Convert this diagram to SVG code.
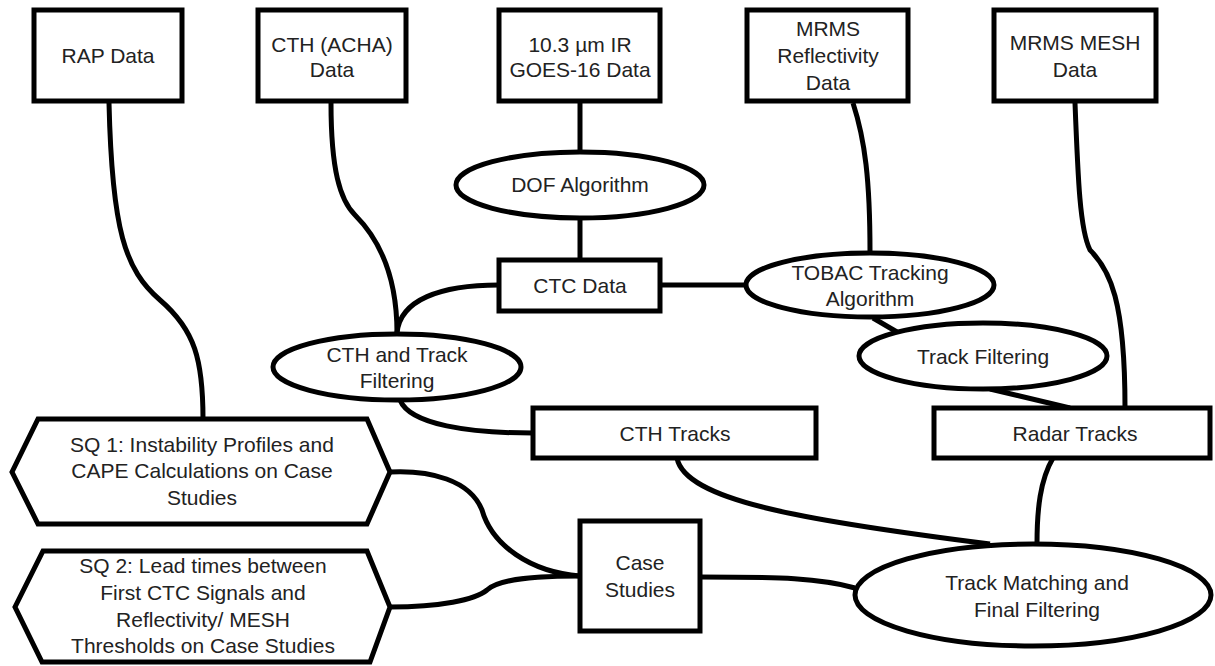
<svg xmlns="http://www.w3.org/2000/svg" width="1215" height="666" viewBox="0 0 1215 666">
<style>
.n{fill:#fff;stroke:#000;stroke-width:5}
.c{fill:none;stroke:#000;stroke-width:5}
text{font-family:"Liberation Sans",Arial,sans-serif;font-size:21px;fill:#222;text-anchor:middle}
</style>
<rect width="1215" height="666" fill="#fff"/>
<g id="connectors">
<path class="c" d="M109,103 C112,230 125,270 160,300 C195,330 203,360 203,419"/>
<path class="c" d="M331,103 C331,170 340,200 355,215 C375,235 397,270 397,333"/>
<path class="c" d="M499,285 C440,285 400,300 397,333"/>
<path class="c" d="M580,103 L580,151"/>
<path class="c" d="M580,218 L580,260"/>
<path class="c" d="M660,285 L746,285"/>
<path class="c" d="M853,103 C865,140 870,180 870,252"/>
<path class="c" d="M873,318 L897,332"/>
<path class="c" d="M990,389 L1070,408"/>
<path class="c" d="M1075,103 C1078,180 1080,230 1090,250 C1110,270 1125,300 1125,408"/>
<path class="c" d="M400,400 C410,425 470,433 533,433"/>
<path class="c" d="M677,458 C685,500 800,520 990,544"/>
<path class="c" d="M1053,458 C1040,480 1037,510 1037,544"/>
<path class="c" d="M700,577 C780,577 820,578 855,588"/>
<path class="c" d="M390,472 C430,470 470,480 482,510 C492,545 530,572 580,576"/>
<path class="c" d="M390,607 C440,607 475,600 487,590 C500,578 540,576 580,576"/>
</g>
<g id="rap"><rect class="n" x="34" y="10" width="148" height="91"/><text x="108" y="63">RAP Data</text></g>
<g id="cth-data"><rect class="n" x="258" y="10" width="148" height="91"/><text x="332" y="52">CTH (ACHA)</text><text x="332" y="77">Data</text></g>
<g id="goes"><rect class="n" x="499" y="10" width="161" height="91"/><text x="580" y="52">10.3 µm IR</text><text x="580" y="77">GOES-16 Data</text></g>
<g id="mrms-refl"><rect class="n" x="747" y="10" width="161" height="91"/><text x="828" y="36">MRMS</text><text x="828" y="63">Reflectivity</text><text x="828" y="90">Data</text></g>
<g id="mrms-mesh"><rect class="n" x="994" y="10" width="162" height="91"/><text x="1075" y="50">MRMS MESH</text><text x="1075" y="77">Data</text></g>
<g id="dof"><ellipse class="n" cx="580" cy="185" rx="124" ry="33"/><text x="580" y="192">DOF Algorithm</text></g>
<g id="ctc"><rect class="n" x="499" y="260" width="161" height="51"/><text x="580" y="293">CTC Data</text></g>
<g id="tobac"><ellipse class="n" cx="870" cy="285" rx="124" ry="32"/><text x="870" y="280">TOBAC Tracking</text><text x="870" y="306">Algorithm</text></g>
<g id="track-filter"><ellipse class="n" cx="983" cy="356" rx="124" ry="33"/><text x="983" y="364">Track Filtering</text></g>
<g id="cth-filter"><ellipse class="n" cx="397" cy="367" rx="124" ry="33"/><text x="397" y="362">CTH and Track</text><text x="397" y="388">Filtering</text></g>
<g id="cth-tracks"><rect class="n" x="533" y="408" width="283" height="50"/><text x="675" y="441">CTH Tracks</text></g>
<g id="radar-tracks"><rect class="n" x="934" y="408" width="276" height="50"/><text x="1075" y="441">Radar Tracks</text></g>
<g id="sq1"><polygon class="n" points="12,472 38,419 367,419 390,472 367,524 38,524"/><text x="202" y="452">SQ 1: Instability Profiles and</text><text x="202" y="478">CAPE Calculations on Case</text><text x="202" y="505">Studies</text></g>
<g id="sq2"><polygon class="n" points="15,607 43,551 367,551 390,607 370,662 42,662"/><text x="203" y="573">SQ 2: Lead times between</text><text x="203" y="600">First CTC Signals and</text><text x="203" y="627">Reflectivity/ MESH</text><text x="203" y="653">Thresholds on Case Studies</text></g>
<g id="case"><rect class="n" x="580" y="521" width="120" height="110"/><text x="640" y="570">Case</text><text x="640" y="597">Studies</text></g>
<g id="matching"><ellipse class="n" cx="1033" cy="595" rx="178" ry="51"/><text x="1037" y="590">Track Matching and</text><text x="1037" y="617">Final Filtering</text></g>
</svg>
